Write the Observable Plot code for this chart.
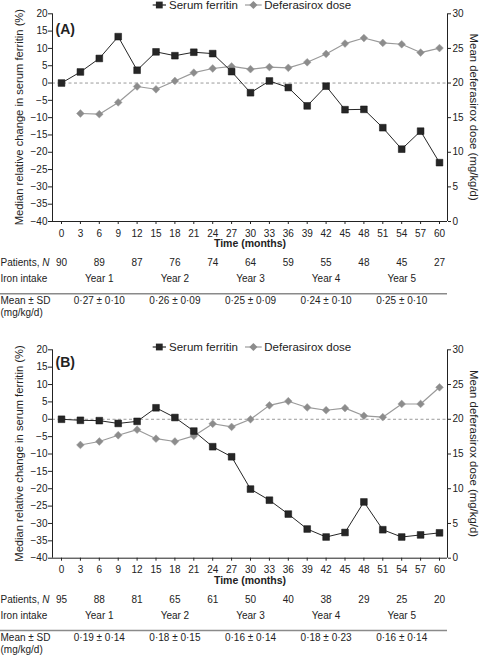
<!DOCTYPE html>
<html><head><meta charset="utf-8">
<script src="https://cdn.jsdelivr.net/npm/d3@7"></script>
<script src="https://cdn.jsdelivr.net/npm/@observablehq/plot@0.6"></script>
<style>
body{margin:0;background:#fff;font-family:"Liberation Sans",Arial,sans-serif;}
#wrap{position:relative;width:480px;height:657px;overflow:hidden;background:#fff;}
.panel{position:absolute;left:0;}
.legend{position:absolute;left:0;width:480px;height:14px;}
</style></head><body><div id="wrap"></div>
<script>
// ---- data ----
const months = [0,3,6,9,12,15,18,21,24,27,30,33,36,39,42,45,48,51,54,57,60];
const doseMonths = [3,6,9,12,15,18,21,24,27,30,33,36,39,42,45,48,51,54,57,60];
const ferritinA = [0,3.2,7.1,13.4,3.7,9.0,7.9,8.9,8.5,3.3,-2.8,0.6,-1.3,-6.6,-0.9,-7.7,-7.6,-12.9,-19.1,-13.9,-23.0];
const doseA = [15.6,15.5,17.2,19.5,19.1,20.3,21.5,22.1,22.4,22.0,22.3,22.2,23.0,24.2,25.7,26.5,25.8,25.6,24.4,25.05];
const ferritinB = [0,-0.3,-0.4,-1.2,-0.6,3.3,0.5,-3.4,-7.9,-10.8,-20.1,-23.3,-27.3,-31.6,-33.9,-32.6,-23.8,-31.8,-33.9,-33.3,-32.7];
const doseB = [16.3,16.8,17.7,18.5,17.2,16.8,17.6,19.35,18.9,20.0,22.0,22.6,21.7,21.3,21.6,20.5,20.3,22.2,22.2,24.6];
const patientMonths = [0,6,12,18,24,30,36,42,48,54,60];
const patientsA = [90,89,87,76,74,64,59,55,48,45,27];
const patientsB = [95,88,81,65,61,50,40,38,29,25,20];
const yearMonths = [6,18,30,42,54];
const yearLabels = ["Year 1","Year 2","Year 3","Year 4","Year 5"];
const ironA = ["0·27 ± 0·10","0·26 ± 0·09","0·25 ± 0·09","0·24 ± 0·10","0·25 ± 0·10"];
const ironB = ["0·19 ± 0·14","0·18 ± 0·15","0·16 ± 0·14","0·18 ± 0·23","0·16 ± 0·14"];
const leftTicks = [20,15,10,5,0,-5,-10,-15,-20,-25,-30,-35,-40];
const rightTicks = [0,5,10,15,20,25,30];
const leftTitle = "Median relative change in serum ferritin (%)";
const rightTitle = "Mean deferasirox dose (mg/kg/d)";
const xTitle = "Time (months)";
const seriesNames = ["Serum ferritin","Deferasirox dose"];

const FONT = '"Liberation Sans", Arial, sans-serif';
const INK = "#222";
const FER = "#262626";
const DOSE_LINE = "#9a9a9a";
const DOSE_FILL = "#8c8c8c";
// right axis: dose d maps onto left scale as 2*d - 40
const toLeft = d => 2 * d - 40;

// render-function mark for a rotated axis title, placed relative to the frame
function rotatedTitle(text, side, offset, size) {
  return (index, scales, values, dims) => {
    const yMid = (dims.marginTop + dims.height - dims.marginBottom) / 2;
    const x = side === "left" ? dims.marginLeft + offset : dims.width - dims.marginRight + offset;
    return d3.create("svg:text")
      .attr("transform", `translate(${x},${yMid}) rotate(${side === "left" ? -90 : 90})`)
      .attr("text-anchor", "middle").attr("dominant-baseline", "central")
      .attr("font-size", size).attr("fill", INK).text(text).node();
  };
}

function panel(cfg) {
  const fer = months.map((m, i) => ({m, v: cfg.ferritin[i]}));
  const dos = doseMonths.map((m, i) => ({m, v: toLeft(cfg.dose[i])}));
  const pts = patientMonths.map((m, i) => ({m, t: String(cfg.patients[i])}));
  const yrs = yearMonths.map((m, i) => ({m, t: yearLabels[i]}));
  const irn = yearMonths.map((m, i) => ({m, t: cfg.iron[i]}));
  const rowDy = {time: 25.7, pat: 44.3, iron: 60.3, rule: 72.8, mean: 82.3, unit: 94.3};
  const rowLabel = (t, dy) => Plot.text([t], {text: d => d, frameAnchor: "bottom-left", dx: -52, dy, textAnchor: "start", fontSize: 10, fill: INK});
  const plot = Plot.plot({
    width: 480, height: cfg.height,
    marginTop: cfg.marginTop, marginBottom: cfg.marginBottom, marginLeft: 52, marginRight: 33,
    style: {fontFamily: FONT, fontSize: "10px", color: INK, background: "#fff"},
    x: {domain: [-1.43, 61.27]},
    y: {domain: [-40, 20]},
    marks: [
      Plot.ruleY([0], {stroke: "#9a9a9a", strokeDasharray: "3,2.5", strokeWidth: 1}),
      Plot.ruleX([-1.43, 61.27], {stroke: INK, strokeWidth: 1}),
      Plot.ruleY([-40], {stroke: INK, strokeWidth: 1}),
      Plot.axisX(months, {tickSize: 3, tickPadding: 5, label: null, fontSize: 10, stroke: INK, fill: INK}),
      Plot.axisY(leftTicks, {anchor: "left", tickSize: 4, tickPadding: 1, label: null, fontSize: 10, stroke: INK, fill: INK}),
      Plot.axisY(rightTicks.map(toLeft), {anchor: "right", tickSize: 3, tickPadding: 2, label: null, fontSize: 10, stroke: INK, fill: INK, tickFormat: v => String((v + 40) / 2)}),
      rotatedTitle(leftTitle, "left", -33.3, 11.2),
      rotatedTitle(rightTitle, "right", 26.5, 11.4),
      Plot.text([cfg.label], {text: d => d, frameAnchor: "top-left", dx: 3, dy: cfg.labelDy, textAnchor: "start", fontSize: 14, fontWeight: "bold", fill: INK}),
      Plot.lineY(dos, {x: "m", y: "v", stroke: DOSE_LINE, strokeWidth: 1.2}),
      Plot.dot(dos, {x: "m", y: "v", symbol: "diamond2", r: 3.5, fill: DOSE_FILL, stroke: "#a0a0a0", strokeWidth: 0.5}),
      Plot.lineY(fer, {x: "m", y: "v", stroke: FER, strokeWidth: 1}),
      Plot.dot(fer, {x: "m", y: "v", symbol: "square", r: 3.8, fill: FER, stroke: "#111", strokeWidth: 0.5}),
      Plot.text([xTitle], {text: d => d, frameAnchor: "bottom", dy: rowDy.time, fontSize: 10.5, fontWeight: "bold", fill: INK}),
      rowLabel("Patients, N", rowDy.pat),
      Plot.text(pts, {x: "m", text: "t", frameAnchor: "bottom", dy: rowDy.pat, fontSize: 10, fill: INK}),
      rowLabel("Iron intake", rowDy.iron),
      Plot.text(yrs, {x: "m", text: "t", frameAnchor: "bottom", dy: rowDy.iron, fontSize: 10, fill: INK}),
      (index, scales, values, dims) => {
        const y = dims.height - dims.marginBottom + rowDy.rule;
        return d3.create("svg:line").attr("x1", 0).attr("x2", dims.width - dims.marginRight)
          .attr("y1", y).attr("y2", y).attr("stroke", "#8a8a8a").attr("stroke-width", 1.5).node();
      },
      rowLabel("Mean ± SD", rowDy.mean),
      Plot.text(irn, {x: "m", text: "t", frameAnchor: "bottom", dy: rowDy.mean, fontSize: 10, fill: INK}),
      rowLabel("(mg/kg/d)", rowDy.unit)
    ]
  });
  // italic N in "Patients, N"
  d3.select(plot).selectAll("text").each(function() {
    if (this.textContent === "Patients, N") {
      const s = d3.select(this); s.text(null);
      s.append("tspan").text("Patients, ");
      s.append("tspan").attr("font-style", "italic").text("N");
    }
  });
  return plot;
}

function legend(top) {
  const svg = d3.create("svg").attr("class", "legend").attr("width", 480).attr("height", 14)
    .style("top", (top - 7) + "px").style("font-family", FONT);
  const g = svg.append("g").attr("transform", "translate(0,7)");
  g.append("line").attr("x1", 152.7).attr("x2", 166).attr("stroke", FER).attr("stroke-width", 1.2);
  g.append("rect").attr("x", 159.3 - 3.4).attr("y", -3.4).attr("width", 6.8).attr("height", 6.8).attr("fill", FER);
  g.append("text").attr("x", 169).attr("y", 4).attr("font-size", 11.5).attr("fill", INK).text(seriesNames[0]);
  g.append("line").attr("x1", 245).attr("x2", 261.7).attr("stroke", DOSE_LINE).attr("stroke-width", 1.2);
  g.append("path").attr("d", "M253.4,-4L257.4,0L253.4,4L249.4,0Z").attr("fill", DOSE_FILL);
  g.append("text").attr("x", 264.3).attr("y", 4).attr("font-size", 11.5).attr("fill", INK).text(seriesNames[1]);
  return svg.node();
}

const wrap = document.getElementById("wrap");
const pA = panel({label: "(A)", labelDy: 10, ferritin: ferritinA, dose: doseA, patients: patientsA, iron: ironA,
  height: 330, marginTop: 13.3, marginBottom: 109});
pA.classList.add("panel"); pA.style.top = "0px";
wrap.appendChild(pA);
const pB = panel({label: "(B)", labelDy: 7.7, ferritin: ferritinB, dose: doseB, patients: patientsB, iron: ironB,
  height: 327, marginTop: 19.3, marginBottom: 99.3});
pB.classList.add("panel"); pB.style.top = "330px";
wrap.appendChild(pB);
wrap.appendChild(legend(5));
wrap.appendChild(legend(346.7));
</script></body></html>
